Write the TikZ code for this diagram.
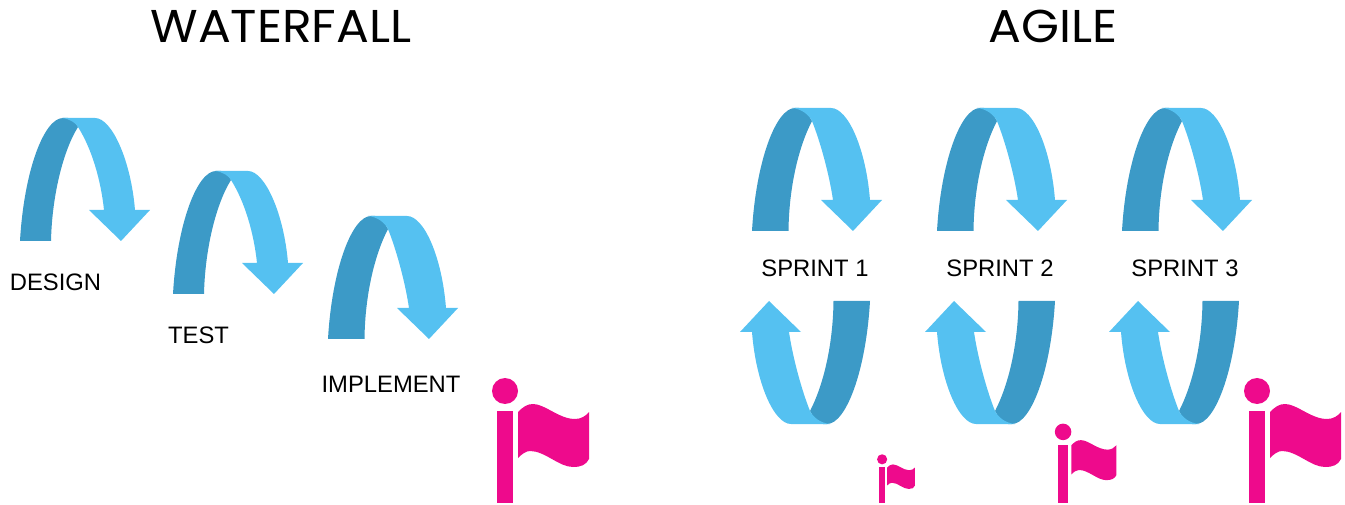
\documentclass[tikz,border=0pt]{standalone}
\usepackage{fontspec}
\setmainfont{Liberation Sans}
\newfontfamily\titlefont[FakeStretch=1.06]{Poppins}
\definecolor{darkblue}{HTML}{3C9AC7}
\definecolor{lightblue}{HTML}{55C1F1}
\definecolor{flagpink}{HTML}{EE0A8C}
\tikzset{
  x=1pt,y=1pt,
  titletext/.style={font=\titlefont\fontsize{46}{50}\selectfont,inner sep=0pt,text=black,anchor=base},
  labeltext/.style={font=\fontsize{23.8}{26}\selectfont,inner sep=0pt,text=black,anchor=base},
  thin loop/.pic={
    \fill[darkblue] (0,0) .. controls (4,70) and (24,123) .. (43,123)
      -- (48,123) .. controls (52,122) and (56,118) .. (58,114)
      .. controls (43,90) and (32,45) .. (31,0) -- cycle;
    \fill[lightblue] (42,123) -- (75,123) .. controls (92,123) and (111,80) .. (115,31)
      -- (130,31) -- (101,0) -- (69,31) -- (84,31)
      .. controls (81,60) and (72,92) .. (58,114)
      .. controls (56,118) and (50,122) .. (42,123) -- cycle;
  },
  thick loop/.pic={
    \fill[darkblue] (0,0) .. controls (4,70) and (24,123) .. (43,123)
      -- (47,123) .. controls (52,122) and (57,116) .. (60,110)
      .. controls (47,85) and (37,45) .. (36.5,0) -- cycle;
    \fill[lightblue] (40,123) -- (79,123) .. controls (96,123) and (114,82) .. (118,31)
      -- (130,31) -- (101,0) -- (69,31) -- (81,31)
      .. controls (77,58) and (68,90) .. (60,110)
      .. controls (57,116) and (50,122) .. (40,123) -- cycle;
  },
  goal flag/.pic={
    \fill[flagpink] (8,112) circle (13);
    \fill[flagpink] (0,0) rectangle (16,92);
    \fill[flagpink] (21,91) .. controls (26,96) and (30,99) .. (36,99)
      .. controls (48,99) and (62,84) .. (78,84)
      .. controls (84,84) and (89,87) .. (92,91)
      -- (92,44) .. controls (89,38) and (84,36) .. (76,36)
      .. controls (62,36) and (48,52) .. (33,52)
      .. controls (29,52) and (25,49) .. (21,45) -- cycle;
  }
}
\begin{document}
\begin{tikzpicture}
\useasboundingbox (0,0) rectangle (1345,504);
\begin{scope}[shift={(0,504)}]
\node[titletext] (wf) at (281,-43) {WATERFALL};
\node[titletext] (ag) at (1053,-43) {AGILE};
\pic at (20,-241) {thin loop};
\pic at (173,-294) {thin loop};
\pic at (328,-339) {thick loop};
\node[labeltext] (design) at (55.5,-291) {DESIGN};
\node[labeltext] (test) at (198.5,-344) {TEST};
\node[labeltext] (impl) at (391,-392) {IMPLEMENT};
\pic at (752,-231) {thick loop};
\pic at (937,-231) {thick loop};
\pic at (1122,-231) {thick loop};
\node[labeltext] (s1) at (815,-277) {SPRINT 1};
\node[labeltext] (s2) at (1000,-277) {SPRINT 2};
\node[labeltext] (s3) at (1185,-277) {SPRINT 3};
\pic[rotate=180] at (870,-301) {thick loop};
\pic[rotate=180] at (1055,-301) {thick loop};
\pic[rotate=180] at (1239,-301) {thick loop};
\pic at (497,-503) {goal flag};
\pic at (1249,-503) {goal flag};
\pic[scale=.635] at (1058,-503) {goal flag};
\pic[scale=.39] at (879,-503) {goal flag};
\end{scope}
\end{tikzpicture}
\end{document}
